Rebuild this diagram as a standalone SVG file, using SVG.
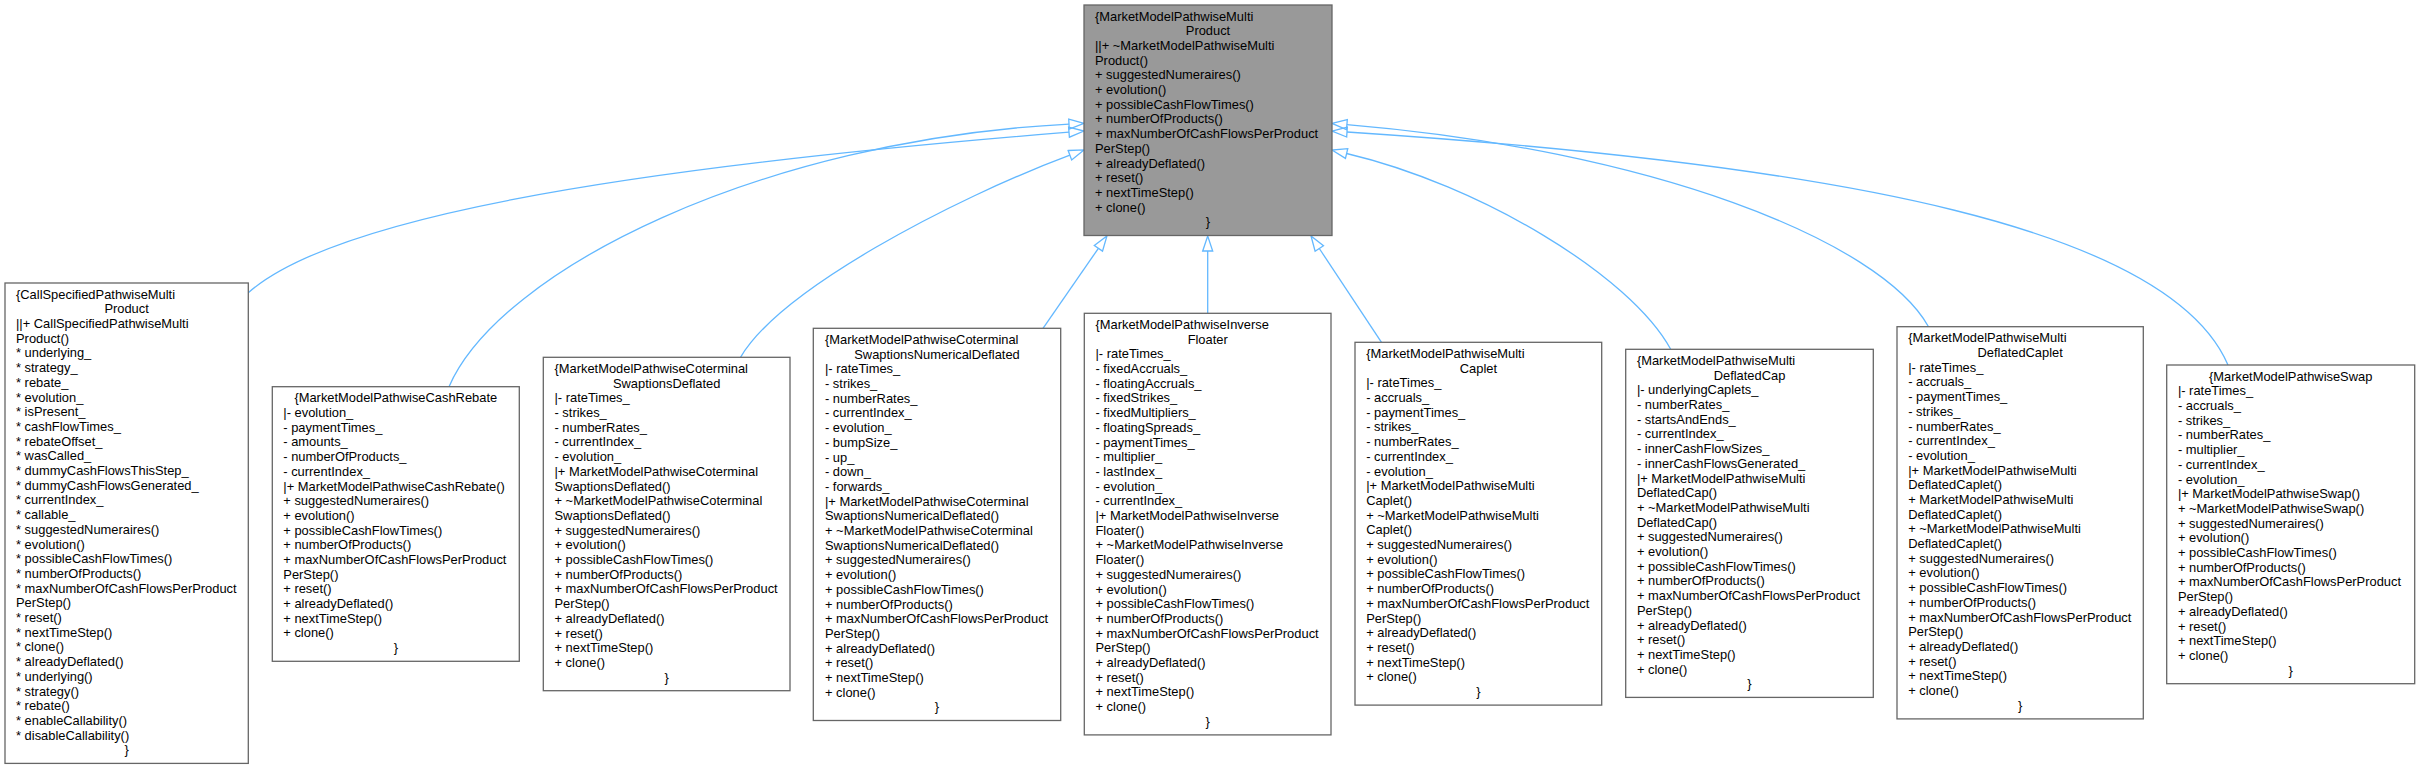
<svg xmlns="http://www.w3.org/2000/svg" width="2419" height="769" viewBox="0 0 2419 769">
<defs>
<style>
.box{fill:#ffffff;stroke:#666666;stroke-width:1.3}
.root{fill:#999999;stroke:#666666;stroke-width:1.3}
text{font-family:"Liberation Sans",Arial,Helvetica,sans-serif;font-size:12.9px;fill:#000000}
.c{text-anchor:middle}
.e{fill:none;stroke:#63b8ff;stroke-width:1.3}
</style>
<marker id="ah" markerUnits="userSpaceOnUse" markerWidth="17" markerHeight="12" viewBox="0 0 17 12" refX="1" refY="6" orient="auto" overflow="visible">
<path d="M1,1 L16,6 L1,11 Z" fill="none" stroke="#63b8ff" stroke-width="1.3"/>
</marker>
</defs>
<rect width="2419" height="769" fill="#ffffff"/>

<g id="edges">
<path class="e" marker-end="url(#ah)" d="M248,293 C330,220 600,170 1069,132.2"/>
<path class="e" marker-end="url(#ah)" d="M449,386.7 C500,270 760,140 1069,124.1"/>
<path class="e" marker-end="url(#ah)" d="M740.5,357.3 C780,290 950,200 1069.9,155.2"/>
<path class="e" marker-end="url(#ah)" d="M1043,328.3 L1098.4,248.3"/>
<path class="e" marker-end="url(#ah)" d="M1207.7,313.3 L1207.7,251"/>
<path class="e" marker-end="url(#ah)" d="M1381.5,342.3 L1319.3,248.5"/>
<path class="e" marker-end="url(#ah)" d="M1670.7,349.3 C1630,275 1480,185 1346.6,153.5"/>
<path class="e" marker-end="url(#ah)" d="M1928.5,326.7 C1880,240 1650,150 1346.9,124.6"/>
<path class="e" marker-end="url(#ah)" d="M2228,365 C2170,230 1850,165 1347,132"/>
</g>

<g id="root">
<rect class="root" x="1084" y="5" width="248" height="230.5"/>
<text x="1095" y="20.6"><tspan x="1095" y="20.6">{MarketModelPathwiseMulti</tspan><tspan class="c" x="1208" dy="14.7">Product</tspan><tspan x="1095" dy="14.7">||+ ~MarketModelPathwiseMulti</tspan><tspan x="1095" dy="14.7">Product()</tspan><tspan x="1095" dy="14.7">+ suggestedNumeraires()</tspan><tspan x="1095" dy="14.7">+ evolution()</tspan><tspan x="1095" dy="14.7">+ possibleCashFlowTimes()</tspan><tspan x="1095" dy="14.7">+ numberOfProducts()</tspan><tspan x="1095" dy="14.7">+ maxNumberOfCashFlowsPerProduct</tspan><tspan x="1095" dy="14.7">PerStep()</tspan><tspan x="1095" dy="14.7">+ alreadyDeflated()</tspan><tspan x="1095" dy="14.7">+ reset()</tspan><tspan x="1095" dy="14.7">+ nextTimeStep()</tspan><tspan x="1095" dy="14.7">+ clone()</tspan><tspan class="c" x="1208" dy="14.7">}</tspan></text>
</g>

<g id="n1">
<rect class="box" x="5" y="283" width="243.3" height="480.4"/>
<text><tspan x="16" y="298.6">{CallSpecifiedPathwiseMulti</tspan><tspan class="c" x="126.6" dy="14.7">Product</tspan><tspan x="16" dy="14.7">||+ CallSpecifiedPathwiseMulti</tspan><tspan x="16" dy="14.7">Product()</tspan><tspan x="16" dy="14.7">* underlying_</tspan><tspan x="16" dy="14.7">* strategy_</tspan><tspan x="16" dy="14.7">* rebate_</tspan><tspan x="16" dy="14.7">* evolution_</tspan><tspan x="16" dy="14.7">* isPresent_</tspan><tspan x="16" dy="14.7">* cashFlowTimes_</tspan><tspan x="16" dy="14.7">* rebateOffset_</tspan><tspan x="16" dy="14.7">* wasCalled_</tspan><tspan x="16" dy="14.7">* dummyCashFlowsThisStep_</tspan><tspan x="16" dy="14.7">* dummyCashFlowsGenerated_</tspan><tspan x="16" dy="14.7">* currentIndex_</tspan><tspan x="16" dy="14.7">* callable_</tspan><tspan x="16" dy="14.7">* suggestedNumeraires()</tspan><tspan x="16" dy="14.7">* evolution()</tspan><tspan x="16" dy="14.7">* possibleCashFlowTimes()</tspan><tspan x="16" dy="14.7">* numberOfProducts()</tspan><tspan x="16" dy="14.7">* maxNumberOfCashFlowsPerProduct</tspan><tspan x="16" dy="14.7">PerStep()</tspan><tspan x="16" dy="14.7">* reset()</tspan><tspan x="16" dy="14.7">* nextTimeStep()</tspan><tspan x="16" dy="14.7">* clone()</tspan><tspan x="16" dy="14.7">* alreadyDeflated()</tspan><tspan x="16" dy="14.7">* underlying()</tspan><tspan x="16" dy="14.7">* strategy()</tspan><tspan x="16" dy="14.7">* rebate()</tspan><tspan x="16" dy="14.7">* enableCallability()</tspan><tspan x="16" dy="14.7">* disableCallability()</tspan><tspan class="c" x="126.6" dy="14.7">}</tspan></text>
</g>

<g id="n2">
<rect class="box" x="272.3" y="386.7" width="247" height="274.6"/>
<text><tspan class="c" x="395.8" y="402.3">{MarketModelPathwiseCashRebate</tspan><tspan x="283.3" dy="14.7">|- evolution_</tspan><tspan x="283.3" dy="14.7">- paymentTimes_</tspan><tspan x="283.3" dy="14.7">- amounts_</tspan><tspan x="283.3" dy="14.7">- numberOfProducts_</tspan><tspan x="283.3" dy="14.7">- currentIndex_</tspan><tspan x="283.3" dy="14.7">|+ MarketModelPathwiseCashRebate()</tspan><tspan x="283.3" dy="14.7">+ suggestedNumeraires()</tspan><tspan x="283.3" dy="14.7">+ evolution()</tspan><tspan x="283.3" dy="14.7">+ possibleCashFlowTimes()</tspan><tspan x="283.3" dy="14.7">+ numberOfProducts()</tspan><tspan x="283.3" dy="14.7">+ maxNumberOfCashFlowsPerProduct</tspan><tspan x="283.3" dy="14.7">PerStep()</tspan><tspan x="283.3" dy="14.7">+ reset()</tspan><tspan x="283.3" dy="14.7">+ alreadyDeflated()</tspan><tspan x="283.3" dy="14.7">+ nextTimeStep()</tspan><tspan x="283.3" dy="14.7">+ clone()</tspan><tspan class="c" x="395.8" dy="14.7">}</tspan></text>
</g>

<g id="n3">
<rect class="box" x="543.3" y="357.3" width="246.7" height="333.4"/>
<text><tspan x="554.5" y="372.9">{MarketModelPathwiseCoterminal</tspan><tspan class="c" x="666.7" dy="14.7">SwaptionsDeflated</tspan><tspan x="554.5" dy="14.7">|- rateTimes_</tspan><tspan x="554.5" dy="14.7">- strikes_</tspan><tspan x="554.5" dy="14.7">- numberRates_</tspan><tspan x="554.5" dy="14.7">- currentIndex_</tspan><tspan x="554.5" dy="14.7">- evolution_</tspan><tspan x="554.5" dy="14.7">|+ MarketModelPathwiseCoterminal</tspan><tspan x="554.5" dy="14.7">SwaptionsDeflated()</tspan><tspan x="554.5" dy="14.7">+ ~MarketModelPathwiseCoterminal</tspan><tspan x="554.5" dy="14.7">SwaptionsDeflated()</tspan><tspan x="554.5" dy="14.7">+ suggestedNumeraires()</tspan><tspan x="554.5" dy="14.7">+ evolution()</tspan><tspan x="554.5" dy="14.7">+ possibleCashFlowTimes()</tspan><tspan x="554.5" dy="14.7">+ numberOfProducts()</tspan><tspan x="554.5" dy="14.7">+ maxNumberOfCashFlowsPerProduct</tspan><tspan x="554.5" dy="14.7">PerStep()</tspan><tspan x="554.5" dy="14.7">+ alreadyDeflated()</tspan><tspan x="554.5" dy="14.7">+ reset()</tspan><tspan x="554.5" dy="14.7">+ nextTimeStep()</tspan><tspan x="554.5" dy="14.7">+ clone()</tspan><tspan class="c" x="666.7" dy="14.7">}</tspan></text>
</g>

<g id="n4">
<rect class="box" x="813.3" y="328.3" width="247.4" height="392.2"/>
<text><tspan x="825" y="343.9">{MarketModelPathwiseCoterminal</tspan><tspan class="c" x="937" dy="14.7">SwaptionsNumericalDeflated</tspan><tspan x="825" dy="14.7">|- rateTimes_</tspan><tspan x="825" dy="14.7">- strikes_</tspan><tspan x="825" dy="14.7">- numberRates_</tspan><tspan x="825" dy="14.7">- currentIndex_</tspan><tspan x="825" dy="14.7">- evolution_</tspan><tspan x="825" dy="14.7">- bumpSize_</tspan><tspan x="825" dy="14.7">- up_</tspan><tspan x="825" dy="14.7">- down_</tspan><tspan x="825" dy="14.7">- forwards_</tspan><tspan x="825" dy="14.7">|+ MarketModelPathwiseCoterminal</tspan><tspan x="825" dy="14.7">SwaptionsNumericalDeflated()</tspan><tspan x="825" dy="14.7">+ ~MarketModelPathwiseCoterminal</tspan><tspan x="825" dy="14.7">SwaptionsNumericalDeflated()</tspan><tspan x="825" dy="14.7">+ suggestedNumeraires()</tspan><tspan x="825" dy="14.7">+ evolution()</tspan><tspan x="825" dy="14.7">+ possibleCashFlowTimes()</tspan><tspan x="825" dy="14.7">+ numberOfProducts()</tspan><tspan x="825" dy="14.7">+ maxNumberOfCashFlowsPerProduct</tspan><tspan x="825" dy="14.7">PerStep()</tspan><tspan x="825" dy="14.7">+ alreadyDeflated()</tspan><tspan x="825" dy="14.7">+ reset()</tspan><tspan x="825" dy="14.7">+ nextTimeStep()</tspan><tspan x="825" dy="14.7">+ clone()</tspan><tspan class="c" x="937" dy="14.7">}</tspan></text>
</g>

<g id="n5">
<rect class="box" x="1084.3" y="313.3" width="246.7" height="421.6"/>
<text><tspan x="1095.5" y="328.9">{MarketModelPathwiseInverse</tspan><tspan class="c" x="1207.7" dy="14.7">Floater</tspan><tspan x="1095.5" dy="14.7">|- rateTimes_</tspan><tspan x="1095.5" dy="14.7">- fixedAccruals_</tspan><tspan x="1095.5" dy="14.7">- floatingAccruals_</tspan><tspan x="1095.5" dy="14.7">- fixedStrikes_</tspan><tspan x="1095.5" dy="14.7">- fixedMultipliers_</tspan><tspan x="1095.5" dy="14.7">- floatingSpreads_</tspan><tspan x="1095.5" dy="14.7">- paymentTimes_</tspan><tspan x="1095.5" dy="14.7">- multiplier_</tspan><tspan x="1095.5" dy="14.7">- lastIndex_</tspan><tspan x="1095.5" dy="14.7">- evolution_</tspan><tspan x="1095.5" dy="14.7">- currentIndex_</tspan><tspan x="1095.5" dy="14.7">|+ MarketModelPathwiseInverse</tspan><tspan x="1095.5" dy="14.7">Floater()</tspan><tspan x="1095.5" dy="14.7">+ ~MarketModelPathwiseInverse</tspan><tspan x="1095.5" dy="14.7">Floater()</tspan><tspan x="1095.5" dy="14.7">+ suggestedNumeraires()</tspan><tspan x="1095.5" dy="14.7">+ evolution()</tspan><tspan x="1095.5" dy="14.7">+ possibleCashFlowTimes()</tspan><tspan x="1095.5" dy="14.7">+ numberOfProducts()</tspan><tspan x="1095.5" dy="14.7">+ maxNumberOfCashFlowsPerProduct</tspan><tspan x="1095.5" dy="14.7">PerStep()</tspan><tspan x="1095.5" dy="14.7">+ alreadyDeflated()</tspan><tspan x="1095.5" dy="14.7">+ reset()</tspan><tspan x="1095.5" dy="14.7">+ nextTimeStep()</tspan><tspan x="1095.5" dy="14.7">+ clone()</tspan><tspan class="c" x="1207.7" dy="14.7">}</tspan></text>
</g>

<g id="n6">
<rect class="box" x="1355" y="342.3" width="246.7" height="362.8"/>
<text><tspan x="1366.2" y="357.9">{MarketModelPathwiseMulti</tspan><tspan class="c" x="1478.4" dy="14.7">Caplet</tspan><tspan x="1366.2" dy="14.7">|- rateTimes_</tspan><tspan x="1366.2" dy="14.7">- accruals_</tspan><tspan x="1366.2" dy="14.7">- paymentTimes_</tspan><tspan x="1366.2" dy="14.7">- strikes_</tspan><tspan x="1366.2" dy="14.7">- numberRates_</tspan><tspan x="1366.2" dy="14.7">- currentIndex_</tspan><tspan x="1366.2" dy="14.7">- evolution_</tspan><tspan x="1366.2" dy="14.7">|+ MarketModelPathwiseMulti</tspan><tspan x="1366.2" dy="14.7">Caplet()</tspan><tspan x="1366.2" dy="14.7">+ ~MarketModelPathwiseMulti</tspan><tspan x="1366.2" dy="14.7">Caplet()</tspan><tspan x="1366.2" dy="14.7">+ suggestedNumeraires()</tspan><tspan x="1366.2" dy="14.7">+ evolution()</tspan><tspan x="1366.2" dy="14.7">+ possibleCashFlowTimes()</tspan><tspan x="1366.2" dy="14.7">+ numberOfProducts()</tspan><tspan x="1366.2" dy="14.7">+ maxNumberOfCashFlowsPerProduct</tspan><tspan x="1366.2" dy="14.7">PerStep()</tspan><tspan x="1366.2" dy="14.7">+ alreadyDeflated()</tspan><tspan x="1366.2" dy="14.7">+ reset()</tspan><tspan x="1366.2" dy="14.7">+ nextTimeStep()</tspan><tspan x="1366.2" dy="14.7">+ clone()</tspan><tspan class="c" x="1478.4" dy="14.7">}</tspan></text>
</g>

<g id="n7">
<rect class="box" x="1625.7" y="349.3" width="247.6" height="348.1"/>
<text><tspan x="1636.9" y="364.9">{MarketModelPathwiseMulti</tspan><tspan class="c" x="1749.5" dy="14.7">DeflatedCap</tspan><tspan x="1636.9" dy="14.7">|- underlyingCaplets_</tspan><tspan x="1636.9" dy="14.7">- numberRates_</tspan><tspan x="1636.9" dy="14.7">- startsAndEnds_</tspan><tspan x="1636.9" dy="14.7">- currentIndex_</tspan><tspan x="1636.9" dy="14.7">- innerCashFlowSizes_</tspan><tspan x="1636.9" dy="14.7">- innerCashFlowsGenerated_</tspan><tspan x="1636.9" dy="14.7">|+ MarketModelPathwiseMulti</tspan><tspan x="1636.9" dy="14.7">DeflatedCap()</tspan><tspan x="1636.9" dy="14.7">+ ~MarketModelPathwiseMulti</tspan><tspan x="1636.9" dy="14.7">DeflatedCap()</tspan><tspan x="1636.9" dy="14.7">+ suggestedNumeraires()</tspan><tspan x="1636.9" dy="14.7">+ evolution()</tspan><tspan x="1636.9" dy="14.7">+ possibleCashFlowTimes()</tspan><tspan x="1636.9" dy="14.7">+ numberOfProducts()</tspan><tspan x="1636.9" dy="14.7">+ maxNumberOfCashFlowsPerProduct</tspan><tspan x="1636.9" dy="14.7">PerStep()</tspan><tspan x="1636.9" dy="14.7">+ alreadyDeflated()</tspan><tspan x="1636.9" dy="14.7">+ reset()</tspan><tspan x="1636.9" dy="14.7">+ nextTimeStep()</tspan><tspan x="1636.9" dy="14.7">+ clone()</tspan><tspan class="c" x="1749.5" dy="14.7">}</tspan></text>
</g>

<g id="n8">
<rect class="box" x="1897" y="326.7" width="246.3" height="392.2"/>
<text><tspan x="1908.2" y="342.3">{MarketModelPathwiseMulti</tspan><tspan class="c" x="2020.2" dy="14.7">DeflatedCaplet</tspan><tspan x="1908.2" dy="14.7">|- rateTimes_</tspan><tspan x="1908.2" dy="14.7">- accruals_</tspan><tspan x="1908.2" dy="14.7">- paymentTimes_</tspan><tspan x="1908.2" dy="14.7">- strikes_</tspan><tspan x="1908.2" dy="14.7">- numberRates_</tspan><tspan x="1908.2" dy="14.7">- currentIndex_</tspan><tspan x="1908.2" dy="14.7">- evolution_</tspan><tspan x="1908.2" dy="14.7">|+ MarketModelPathwiseMulti</tspan><tspan x="1908.2" dy="14.7">DeflatedCaplet()</tspan><tspan x="1908.2" dy="14.7">+ MarketModelPathwiseMulti</tspan><tspan x="1908.2" dy="14.7">DeflatedCaplet()</tspan><tspan x="1908.2" dy="14.7">+ ~MarketModelPathwiseMulti</tspan><tspan x="1908.2" dy="14.7">DeflatedCaplet()</tspan><tspan x="1908.2" dy="14.7">+ suggestedNumeraires()</tspan><tspan x="1908.2" dy="14.7">+ evolution()</tspan><tspan x="1908.2" dy="14.7">+ possibleCashFlowTimes()</tspan><tspan x="1908.2" dy="14.7">+ numberOfProducts()</tspan><tspan x="1908.2" dy="14.7">+ maxNumberOfCashFlowsPerProduct</tspan><tspan x="1908.2" dy="14.7">PerStep()</tspan><tspan x="1908.2" dy="14.7">+ alreadyDeflated()</tspan><tspan x="1908.2" dy="14.7">+ reset()</tspan><tspan x="1908.2" dy="14.7">+ nextTimeStep()</tspan><tspan x="1908.2" dy="14.7">+ clone()</tspan><tspan class="c" x="2020.2" dy="14.7">}</tspan></text>
</g>

<g id="n9">
<rect class="box" x="2166.7" y="365" width="248" height="318.7"/>
<text><tspan class="c" x="2290.7" y="380.6">{MarketModelPathwiseSwap</tspan><tspan x="2177.9" dy="14.7">|- rateTimes_</tspan><tspan x="2177.9" dy="14.7">- accruals_</tspan><tspan x="2177.9" dy="14.7">- strikes_</tspan><tspan x="2177.9" dy="14.7">- numberRates_</tspan><tspan x="2177.9" dy="14.7">- multiplier_</tspan><tspan x="2177.9" dy="14.7">- currentIndex_</tspan><tspan x="2177.9" dy="14.7">- evolution_</tspan><tspan x="2177.9" dy="14.7">|+ MarketModelPathwiseSwap()</tspan><tspan x="2177.9" dy="14.7">+ ~MarketModelPathwiseSwap()</tspan><tspan x="2177.9" dy="14.7">+ suggestedNumeraires()</tspan><tspan x="2177.9" dy="14.7">+ evolution()</tspan><tspan x="2177.9" dy="14.7">+ possibleCashFlowTimes()</tspan><tspan x="2177.9" dy="14.7">+ numberOfProducts()</tspan><tspan x="2177.9" dy="14.7">+ maxNumberOfCashFlowsPerProduct</tspan><tspan x="2177.9" dy="14.7">PerStep()</tspan><tspan x="2177.9" dy="14.7">+ alreadyDeflated()</tspan><tspan x="2177.9" dy="14.7">+ reset()</tspan><tspan x="2177.9" dy="14.7">+ nextTimeStep()</tspan><tspan x="2177.9" dy="14.7">+ clone()</tspan><tspan class="c" x="2290.7" dy="14.7">}</tspan></text>
</g>
</svg>
